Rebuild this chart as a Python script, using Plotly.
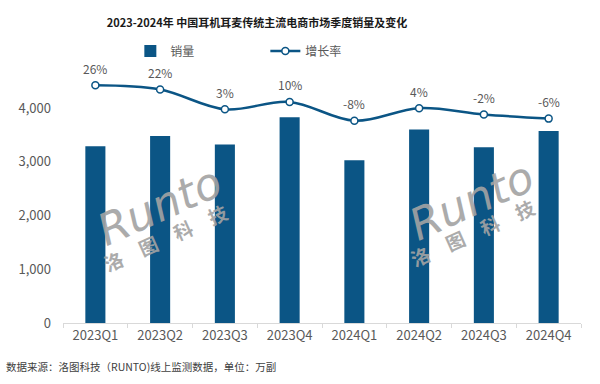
import plotly.graph_objects as go

quarters = ["2023Q1", "2023Q2", "2023Q3", "2023Q4", "2024Q1", "2024Q2", "2024Q3", "2024Q4"]
sales = [3290, 3480, 3320, 3830, 3030, 3600, 3270, 3570]
growth = [26, 22, 3, 10, -8, 4, -2, -6]
growth_labels = [f"{g}%" for g in growth]
y_ticks = [0, 1000, 2000, 3000, 4000]

BLUE = "#0B5585"
GREY = "#595959"
FONT = "Noto Sans CJK SC"

fig = go.Figure()
fig.add_trace(go.Bar(
    x=quarters, y=sales, name="销量", marker=dict(color=BLUE, line=dict(width=0)),
    yaxis="y",
))
fig.add_trace(go.Scatter(
    x=quarters, y=growth, name="增长率", yaxis="y2",
    mode="lines+markers",
    line=dict(color=BLUE, width=2.5, shape="spline", smoothing=1.0),
    marker=dict(size=7, color="white", line=dict(color=BLUE, width=1.5)),
    cliponaxis=False,
))

annotations = []
for q, g, lab in zip(quarters, growth, growth_labels):
    annotations.append(dict(text=lab, x=q, y=g, xref="x", yref="y2", yshift=17,
                            showarrow=False, xanchor="center", yanchor="middle",
                            font=dict(family=FONT, size=12, color=GREY)))
annotations.append(dict(text="数据来源：洛图科技（RUNTO)线上监测数据，单位：万副",
         xref="paper", yref="paper", x=-0.113, y=-0.1727, xanchor="left", yanchor="middle",
         showarrow=False, font=dict(family=FONT, size=10.5, color="#404040")))
for (xr, yr, xc, yc) in [(0.187, 0.466, 0.197, 0.336), (0.788, 0.486, 0.790, 0.356)]:
    annotations.append(dict(text="<i>Runto</i>", xref="paper", yref="paper", x=xr, y=yr,
                            xanchor="center", yanchor="middle",
                            showarrow=False, textangle=-24, opacity=0.9,
                            font=dict(family="DejaVu Sans", size=44, color="#a3a3a3")))
    annotations.append(dict(text="<b>洛　图　科　技</b>", xref="paper", yref="paper", x=xc, y=yc,
                            xanchor="center", yanchor="middle",
                            showarrow=False, textangle=-24, opacity=0.9,
                            font=dict(family=FONT, size=19, color="#a3a3a3")))

fig.update_layout(
    width=600, height=384,
    margin=dict(l=63, r=19, t=70, b=61, autoexpand=False),
    paper_bgcolor="white", plot_bgcolor="white",
    font=dict(family=FONT, color=GREY),
    title=dict(text="<b>2023-2024年 中国耳机耳麦传统主流电商市场季度销量及变化</b>",
               x=257/600, xanchor="center", xref="container",
               y=1 - 23/384, yanchor="middle",
               font=dict(family=FONT, size=11, color="#1a1a1a")),
    bargap=0.69,
    showlegend=True,
    legend=dict(orientation="h", x=0.13, xanchor="left", y=1.075, yanchor="middle",
                font=dict(family=FONT, size=12, color=GREY),
                entrywidth=90, entrywidthmode="pixels", bgcolor="rgba(0,0,0,0)"),
    xaxis=dict(showline=True, linecolor="#d9d9d9", linewidth=1,
               ticks="outside", tickson="boundaries", ticklen=4, tickcolor="#d9d9d9",
               tickfont=dict(family=FONT, size=13, color=GREY), showgrid=False),
    yaxis=dict(range=[0, 4707], tickvals=y_ticks, tickformat=",", showgrid=False,
               zeroline=False, showline=False, ticklabelstandoff=11,
               tickfont=dict(family=FONT, size=13, color=GREY)),
    yaxis2=dict(range=[-202.3, 40.7], overlaying="y", side="right", visible=False,
                showgrid=False, zeroline=False),
    annotations=annotations,
)

fig.write_html("out.html", config={"displayModeBar": False},
               post_script="document.body.style.margin='0';document.body.style.overflow='hidden';")
